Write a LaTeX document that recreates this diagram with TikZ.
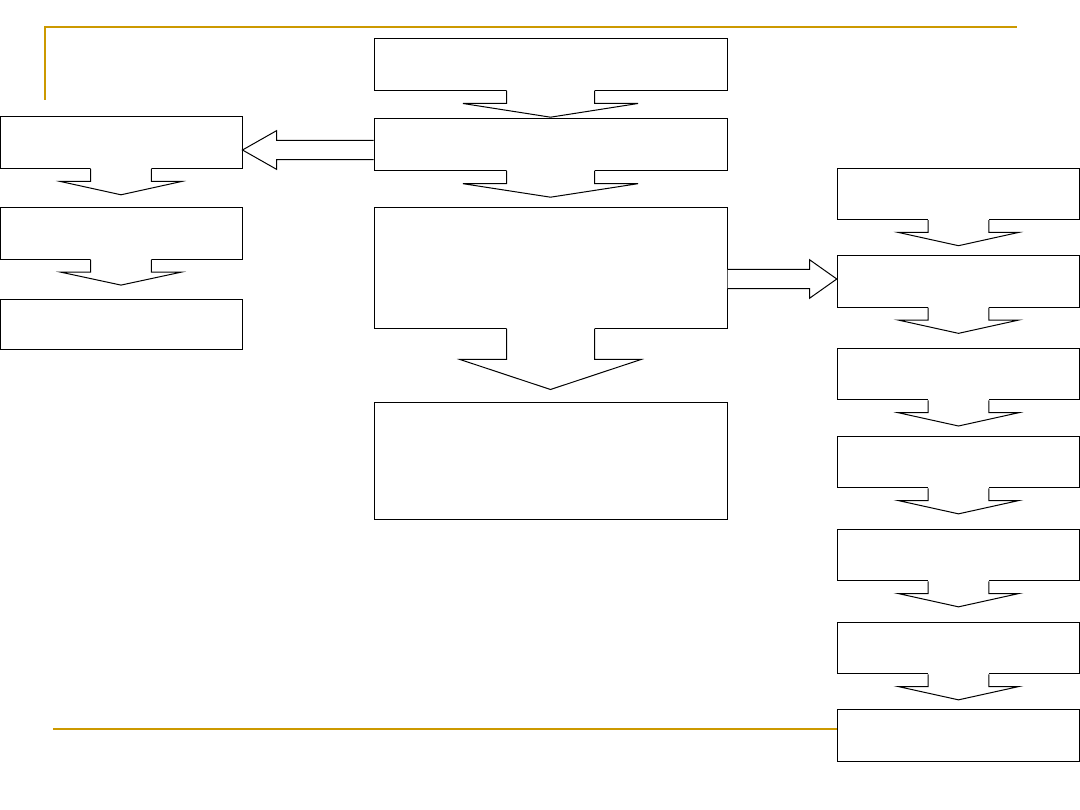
\documentclass[tikz,border=0pt]{standalone}
\usetikzlibrary{calc}
\definecolor{gold}{RGB}{204,153,0}
\tikzset{
  box/.style={draw=black, fill=white, rectangle, inner sep=0pt, line width=1pt},
  cbox/.style={box, minimum width=353pt},
  sbox/.style={box, minimum width=242.4pt, minimum height=51.5pt},
  arrowline/.style={draw=black, line width=1pt, line join=miter},
  rule/.style={draw=gold, line width=2pt}
}
\newcommand\blkdown[5]{%
  \path[fill=white] ($(#1.south)+(-#2,-1.2)$) -- ($(#1.south)+(-#2,#3)$) -- ($(#1.south)+(-#4,#3)$)
    -- ($(#1.south)+(0,{#3+#5})$) -- ($(#1.south)+(#4,#3)$) -- ($(#1.south)+(#2,#3)$)
    -- ($(#1.south)+(#2,-1.2)$) -- cycle;
  \draw[arrowline] ($(#1.south)+(-#2,0)$) -- ($(#1.south)+(-#2,#3)$) -- ($(#1.south)+(-#4,#3)$)
    -- ($(#1.south)+(0,{#3+#5})$) -- ($(#1.south)+(#4,#3)$) -- ($(#1.south)+(#2,#3)$)
    -- ($(#1.south)+(#2,0)$);
}
\begin{document}
\begin{tikzpicture}[x=1pt,y=-1pt]
\useasboundingbox[fill=white] (0,0) rectangle (1080,810);
% decorative rules
\draw[rule] (44.7,100) -- (44.7,26.7) -- (1017,26.7);
\draw[rule] (53,729) -- (840,729);
% central column
\node[cbox, minimum height=51.5pt] (C1) at (550.5,64.75) {};
\node[cbox, minimum height=51.7pt] (C2) at (550.5,144.85) {};
\node[cbox, minimum height=120.3pt] (C3) at (550.5,268.15) {};
\node[cbox, minimum height=116.7pt] (C4) at (550.5,460.65) {};
% left column
\node[sbox, minimum width=242pt, minimum height=52pt] (L1) at (121,142.7) {};
\node[sbox, minimum width=242pt, minimum height=51.6pt] (L2) at (121,233.5) {};
\node[sbox, minimum width=242pt, minimum height=50.7pt] (L3) at (121,324.65) {};
% right column
\node[sbox] (R1) at (958.5,193.85) {};
\node[sbox] (R2) at (958.5,281.5) {};
\node[sbox] (R3) at (958.5,374.15) {};
\node[sbox] (R4) at (958.5,462) {};
\node[sbox] (R5) at (958.5,555) {};
\node[sbox] (R6) at (958.5,648) {};
\node[sbox] (R7) at (958.5,735.65) {};
% down block arrows
\blkdown{C1}{44}{12.5}{87.5}{13.7}
\blkdown{C2}{44}{12.5}{87.5}{13.5}
\blkdown{C3}{44}{30.7}{90.5}{30}
\blkdown{L1}{30.3}{12.3}{60.5}{13.3}
\blkdown{L2}{30.3}{12.3}{60.5}{13}
\foreach \n in {R1,R2,R3,R4,R5,R6}{\blkdown{\n}{30.3}{12.3}{60.3}{13.3}}
% left block arrow C2 -> L1
\coordinate (la) at ($(C2.west)+(0,5.15)$);
\coordinate (lt) at (L1.east |- la);
\filldraw[arrowline, fill=white] ($(la)+(0,-9.7)$) -- ($(lt)+(34,-9.7)$) -- ($(lt)+(34,-19.3)$)
  -- (lt) -- ($(lt)+(34,19.3)$) -- ($(lt)+(34,9.7)$) -- ($(la)+(0,9.7)$);
% right block arrow C3 -> R2
\coordinate (ra) at ($(C3.east)+(0,10.85)$);
\coordinate (rt) at (R2.west |- ra);
\filldraw[arrowline, fill=white] ($(ra)+(0,-9.7)$) -- ($(rt)+(-27.3,-9.7)$) -- ($(rt)+(-27.3,-19.3)$)
  -- (rt) -- ($(rt)+(-27.3,19.3)$) -- ($(rt)+(-27.3,9.7)$) -- ($(ra)+(0,9.7)$);
\end{tikzpicture}
\end{document}
